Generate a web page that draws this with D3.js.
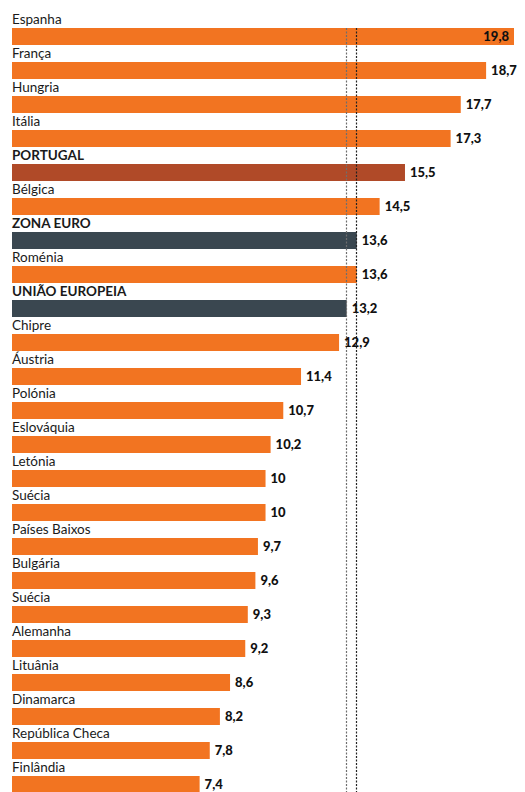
<!DOCTYPE html>
<html>
<head>
<meta charset="utf-8">
<script src="https://cdn.jsdelivr.net/npm/d3@7"></script>
<style>
  body { margin: 0; background: #fff; }
  svg { display: block; }
  .name { font-family: Lato, "Noto Sans", sans-serif; font-size: 13.5px; fill: #1a1a1a; }
  .name.hl { font-weight: bold; }
  .val { font-family: Lato, "Noto Sans", sans-serif; font-size: 13px; font-weight: 900; fill: #111; }
</style>
</head>
<body>
<script>
// Country names, values, and row type (c = country, pt = Portugal, avg = average)
const countries = ['Espanha', 'França', 'Hungria', 'Itália', 'PORTUGAL', 'Bélgica', 'ZONA EURO',
    'Roménia', 'UNIÃO EUROPEIA', 'Chipre', 'Áustria', 'Polónia', 'Eslováquia', 'Letónia', 'Suécia',
    'Países Baixos', 'Bulgária', 'Suécia ', 'Alemanha', 'Lituânia', 'Dinamarca', 'República Checa', 'Finlândia'];
const values = [19.8, 18.7, 17.7, 17.3, 15.5, 14.5, 13.6, 13.6, 13.2, 12.9, 11.4, 10.7, 10.2, 10, 10,
    9.7, 9.6, 9.3, 9.2, 8.6, 8.2, 7.8, 7.4];
const kinds = ['c', 'c', 'c', 'c', 'pt', 'c', 'avg', 'c', 'avg', 'c', 'c', 'c', 'c', 'c', 'c',
    'c', 'c', 'c', 'c', 'c', 'c', 'c', 'c'];
// Reference lines: União Europeia and Zona Euro
const refLines = [13.2, 13.6];

const width = 525, height = 792;
const colors = { c: '#f27421', pt: '#b04a28', avg: '#3a4750' };

const svg = d3.select('body').append('svg')
    .attr('width', width)
    .attr('height', height);

const x = d3.scaleLinear().domain([0, 19.8]).range([12, 514]);
const y = d3.scaleBand()
    .domain(countries)
    .range([28, 793])
    .paddingInner(0.5)
    .paddingOuter(0);

const rows = countries.map((c, i) => ({ name: c, value: values[i], kind: kinds[i] }));

// Bars
svg.selectAll('rect.bar')
    .data(rows)
    .join('rect')
    .attr('class', 'bar')
    .attr('x', x(0))
    .attr('y', d => y(d.name))
    .attr('width', d => x(d.value) - x(0))
    .attr('height', y.bandwidth())
    .attr('fill', d => colors[d.kind]);

// Dotted reference lines
svg.selectAll('line.ref')
    .data(refLines)
    .join('line')
    .attr('class', 'ref')
    .attr('x1', d => Math.round(x(d)) - 0.5)
    .attr('x2', d => Math.round(x(d)) - 0.5)
    .attr('y1', y(countries[0]))
    .attr('y2', height)
    .attr('stroke', (d, i) => i === 0 ? '#6e6e6e' : '#222')
    .attr('stroke-width', 1.2)
    .attr('stroke-dasharray', '2,1.5');

// Country labels
svg.selectAll('text.name')
    .data(rows)
    .join('text')
    .attr('class', d => d.kind === 'c' ? 'name' : 'name hl')
    .attr('x', x(0))
    .attr('y', d => y(d.name) - 4)
    .text(d => d.name.trim());

// Value labels
const fmt = v => String(v).replace('.', ',');
svg.selectAll('text.val')
    .data(rows)
    .join('text')
    .attr('class', 'val')
    .attr('x', d => x(d.value) > 490 ? x(d.value) - 5 : x(d.value) + 5)
    .attr('y', d => y(d.name) + y.bandwidth() / 2 + 4.5)
    .attr('text-anchor', d => x(d.value) > 490 ? 'end' : 'start')
    .text(d => fmt(d.value));
</script>
</body>
</html>
